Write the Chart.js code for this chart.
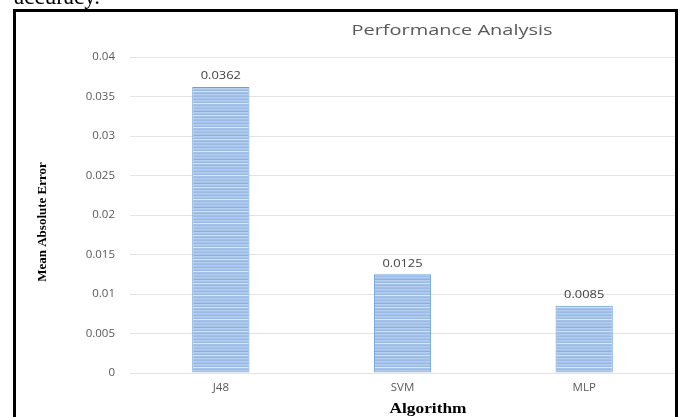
<!DOCTYPE html>
<html>
<head>
<meta charset="utf-8">
<script src="https://cdn.jsdelivr.net/npm/chart.js@4.4.1/dist/chart.umd.min.js"></script>
<style>
  html, body { margin: 0; padding: 0; background: #ffffff; }
  canvas { display: block; }
</style>
</head>
<body>
<canvas id="chart" width="683" height="417"></canvas>
<script>
// Mean absolute error per classification algorithm
const algorithms = ['J48', 'SVM', 'MLP'];
const meanAbsoluteError = [0.0362, 0.0125, 0.0085];
const yTicks = [0, 0.005, 0.01, 0.015, 0.02, 0.025, 0.03, 0.035, 0.04];

const chartTitle = 'Performance Analysis';
const xTitle = 'Algorithm';
const yTitle = 'Mean Absolute Error';
const leadText = 'accuracy.';

const labelFont = '"Open Sans", Lato, sans-serif';

// Striped blue fill for the bars
function makeStripePattern(ctx) {
  const rows = ['#9abbe6', '#b6cfee', '#a5c3e9', '#96b9e4', '#b4cdee', '#a9c6ea',
                '#9abbe6', '#d9e6f6', '#a5c3e9', '#96b9e4', '#b6cfee', '#a3c2e8',
                '#9abbe6', '#b4cdee', '#a5c3e9', '#8ab0df', '#b6cfee', '#a9c6ea',
                '#9abbe6', '#cfdff4', '#a5c3e9', '#96b9e4', '#b4cdee', '#a3c2e8'];
  const c = document.createElement('canvas');
  c.width = 4; c.height = rows.length;
  const g = c.getContext('2d');
  rows.forEach((col, i) => { g.fillStyle = col; g.fillRect(0, i, 4, 1); });
  return ctx.createPattern(c, 'repeat');
}

const canvas = document.getElementById('chart');
const ctx = canvas.getContext('2d');

// Draw text stretched horizontally to a given width
function fillStretched(c, text, x, y, width) {
  const w = c.measureText(text).width;
  c.save();
  c.translate(x, y);
  c.scale(width / w, 1);
  c.fillText(text, 0, 0);
  c.restore();
}

// Frame, title, axis titles and the line of text above the frame
const decorations = {
  id: 'decorations',
  beforeDraw(chart) {
    const c = chart.ctx;
    c.save();
    c.fillStyle = '#ffffff';
    c.fillRect(0, 0, chart.width, chart.height);
    c.fillStyle = '#000000';
    c.font = '23px "Liberation Serif", "Times New Roman", serif';
    c.textAlign = 'left';
    c.textBaseline = 'alphabetic';
    c.fillText(leadText, 14, 4);
    c.strokeStyle = '#000000';
    c.lineWidth = 3;
    c.strokeRect(14.5, 10.5, 662, 430);
    c.restore();
  },
  afterDraw(chart) {
    const c = chart.ctx;
    const area = chart.chartArea;
    c.save();
    c.fillStyle = '#595959';
    c.font = '15px ' + labelFont;
    c.textAlign = 'center';
    c.textBaseline = 'middle';
    fillStretched(c, chartTitle, 452, 31, 201);

    c.fillStyle = '#000000';
    c.font = 'bold 14px "Liberation Serif", "Times New Roman", serif';
    fillStretched(c, xTitle, 428, 409, 77);

    c.font = 'bold 13px "Liberation Serif", "Times New Roman", serif';
    c.save();
    c.translate(43, (area.top + area.bottom) / 2 + 7);
    c.rotate(-Math.PI / 2);
    c.fillText(yTitle, 0, 0);
    c.restore();

    // value labels above each bar
    const meta = chart.getDatasetMeta(0);
    c.fillStyle = '#404040';
    c.font = '11.5px ' + labelFont;
    c.textBaseline = 'middle';
    meta.data.forEach((bar, i) => {
      const txt = String(chart.data.datasets[0].data[i]);
      fillStretched(c, txt, bar.x, bar.y - 11, c.measureText(txt).width * 1.12);
    });
    c.restore();
  }
};

new Chart(ctx, {
  type: 'bar',
  data: {
    labels: algorithms,
    datasets: [{
      data: meanAbsoluteError,
      backgroundColor: makeStripePattern(ctx),
      borderColor: '#6a9fdb',
      borderWidth: 1,
      barPercentage: 0.315,
      categoryPercentage: 1
    }]
  },
  options: {
    responsive: false,
    animation: false,
    devicePixelRatio: 1,
    layout: { padding: { top: 57, right: 8, left: 0, bottom: 0 } },
    plugins: {
      legend: { display: false },
      title: { display: false },
      tooltip: { enabled: false }
    },
    scales: {
      x: {
        grid: { display: false, drawTicks: false },
        border: { display: false },
        ticks: {
          color: '#595959',
          font: { family: labelFont, size: 11.5 },
          padding: 8
        },
        afterFit(scale) { scale.height = 44; }
      },
      y: {
        min: yTicks[0],
        max: yTicks[yTicks.length - 1],
        afterBuildTicks(scale) { scale.ticks = yTicks.map(v => ({ value: v })); },
        grid: { color: '#e3e3e3', lineWidth: 1, drawTicks: false },
        border: { display: false },
        ticks: {
          color: '#595959',
          font: { family: labelFont, size: 11.5 },
          padding: 15,
          callback: v => String(Number(v.toFixed(3)))
        },
        afterFit(scale) { scale.width = 130; }
      }
    }
  },
  plugins: [decorations]
});
</script>
</body>
</html>
